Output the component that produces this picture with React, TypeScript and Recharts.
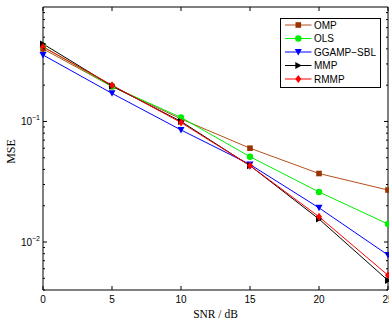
import React from 'react';
import { LineChart, Line, XAxis, YAxis } from 'recharts';

const snr = [0, 5, 10, 15, 20, 25];
const omp = [0.4, 0.195, 0.105, 0.06, 0.037, 0.027];
const ols = [0.418, 0.195, 0.108, 0.051, 0.026, 0.0141];
const ggamp = [0.356, 0.171, 0.085, 0.044, 0.0192, 0.0078];
const mmp = [0.44, 0.197, 0.1, 0.043, 0.0155, 0.0048];
const rmmp = [0.415, 0.2, 0.098, 0.043, 0.0162, 0.0053];

const xTicks = [0, 5, 10, 15, 20, 25];
const yTicks = [
  0.004, 0.005, 0.006, 0.007, 0.008, 0.009,
  0.01, 0.02, 0.03, 0.04, 0.05, 0.06, 0.07, 0.08, 0.09,
  0.1, 0.2, 0.3, 0.4, 0.5, 0.6, 0.7, 0.8,
];
const yMajor: Record<string, string> = { '0.01': '\u22122', '0.1': '\u22121' };

const data = snr.map((s, i) => ({
  snr: s,
  omp: omp[i],
  ols: ols[i],
  ggamp: ggamp[i],
  mmp: mmp[i],
  rmmp: rmmp[i],
}));

const SANS = '"Liberation Sans", Arial, Helvetica, sans-serif';
const SERIF = '"Liberation Serif", "Times New Roman", serif';

type Shape = 'square' | 'circle' | 'down' | 'right' | 'diamond';

const Marker = ({ shape, cx, cy, fill }: { shape: Shape; cx: number; cy: number; fill: string }) => {
  if (shape === 'square') return <rect x={cx - 2.8} y={cy - 2.8} width={5.6} height={5.6} fill={fill} />;
  if (shape === 'circle') return <circle cx={cx} cy={cy} r={3.2} fill={fill} />;
  if (shape === 'down')
    return <polygon points={`${cx - 3.5},${cy - 3} ${cx + 3.5},${cy - 3} ${cx},${cy + 3.5}`} fill={fill} />;
  if (shape === 'right')
    return <polygon points={`${cx - 3},${cy - 3.5} ${cx - 3},${cy + 3.5} ${cx + 3.5},${cy}`} fill={fill} />;
  return <polygon points={`${cx},${cy - 4} ${cx + 3},${cy} ${cx},${cy + 4} ${cx - 3},${cy}`} fill={fill} />;
};

const series = [
  { key: 'omp', name: 'OMP', stroke: '#b4501e', fill: '#993300', shape: 'square' as Shape },
  { key: 'ols', name: 'OLS', stroke: '#00ee00', fill: '#00ee00', shape: 'circle' as Shape },
  { key: 'ggamp', name: 'GGAMP\u2212SBL', stroke: '#0000ff', fill: '#0000ff', shape: 'down' as Shape },
  { key: 'mmp', name: 'MMP', stroke: '#000000', fill: '#000000', shape: 'right' as Shape },
  { key: 'rmmp', name: 'RMMP', stroke: '#ff0000', fill: '#ff0000', shape: 'diamond' as Shape },
];

const BottomTick = (p: any) => (
  <g>
    <line x1={p.x} y1={p.y} x2={p.x} y2={p.y - 4} stroke="#000" />
    <text x={p.x} y={p.y + 13} textAnchor="middle" fontFamily={SANS} fontSize={10} fill="#000">
      {p.payload.value}
    </text>
  </g>
);

const TopTick = (p: any) => <line x1={p.x} y1={p.y} x2={p.x} y2={p.y + 4} stroke="#000" />;

const LeftTick = (p: any) => {
  const exp = yMajor[String(p.payload.value)];
  return (
    <g>
      <line x1={p.x} y1={p.y} x2={p.x + (exp ? 4 : 2)} y2={p.y} stroke="#000" />
      {exp && (
        <text x={p.x - 3} y={p.y + 4} textAnchor="end" fontFamily={SANS} fontSize={10} fill="#000">
          10<tspan dy={-5} fontSize={7}>{exp}</tspan>
        </text>
      )}
    </g>
  );
};

const RightTick = (p: any) => {
  const major = yMajor[String(p.payload.value)];
  return <line x1={p.x} y1={p.y} x2={p.x - (major ? 4 : 2)} y2={p.y} stroke="#000" />;
};

const MseLabel = (p: any) => {
  const vb = p.viewBox || { x: 0, y: 6, width: 43, height: 284 };
  const cx = vb.x + 11;
  const cy = vb.y + vb.height / 2 + 3;
  return (
    <text x={cx} y={cy} transform={`rotate(-90 ${cx} ${cy})`} textAnchor="middle" dominantBaseline="central" fontFamily={SERIF} fontSize={12} fill="#000">
      MSE
    </text>
  );
};

const LegendBox = () => (
  <svg width={101} height={70} style={{ position: 'absolute', left: 280, top: 18 }}>
    <rect x={0.5} y={0.5} width={100} height={69} fill="#fff" stroke="#000" />
    {series.map((s, i) => {
      const y = 7 + i * 13.5;
      return (
        <g key={s.key}>
          <line x1={5} y1={y} x2={31.5} y2={y} stroke={s.stroke} />
          <Marker shape={s.shape} cx={18.3} cy={y} fill={s.fill} />
          <text x={34} y={y + 3.5} fontFamily={SANS} fontSize={10} fill="#000">
            {s.name}
          </text>
        </g>
      );
    })}
  </svg>
);

export default function App() {
  return (
    <div style={{ position: 'absolute', left: 0, top: 0, width: 389, height: 322, overflow: 'hidden', background: '#fff' }}>
      <LineChart width={400} height={322} data={data} margin={{ top: 6, right: 11, bottom: 0, left: 0 }}>
        <XAxis
          dataKey="snr"
          type="number"
          domain={[0, 25]}
          ticks={xTicks}
          interval={0}
          height={32}
          tickSize={0}
          tickMargin={0}
          tick={BottomTick}
          axisLine={{ stroke: '#000' }}
          label={{ value: 'SNR / dB', position: 'insideBottom', offset: 4, fontFamily: SERIF, fontSize: 11.5, fill: '#000' }}
        />
        <XAxis
          xAxisId="top"
          orientation="top"
          dataKey="snr"
          type="number"
          domain={[0, 25]}
          ticks={xTicks}
          interval={0}
          height={1}
          tickSize={0}
          tickMargin={0}
          tick={TopTick}
          axisLine={{ stroke: '#000' }}
        />
        <YAxis
          type="number"
          scale="log"
          domain={[0.004, 0.89]}
          allowDataOverflow
          ticks={yTicks}
          interval={0}
          width={43}
          tickSize={0}
          tickMargin={0}
          tick={LeftTick}
          axisLine={{ stroke: '#000' }}
          label={<MseLabel />}
        />
        <YAxis
          yAxisId="right"
          orientation="right"
          type="number"
          scale="log"
          domain={[0.004, 0.89]}
          allowDataOverflow
          ticks={yTicks}
          interval={0}
          width={1}
          tickSize={0}
          tickMargin={0}
          tick={RightTick}
          axisLine={{ stroke: '#000' }}
        />
        {series.map((s) => (
          <Line
            key={s.key}
            dataKey={s.key}
            stroke={s.stroke}
            strokeWidth={1}
            isAnimationActive={false}
            dot={(p: any) => <Marker key={`${s.key}-${p.index}`} shape={s.shape} cx={p.cx} cy={p.cy} fill={s.fill} />}
            activeDot={false}
          />
        ))}
      </LineChart>
      <LegendBox />
    </div>
  );
}
